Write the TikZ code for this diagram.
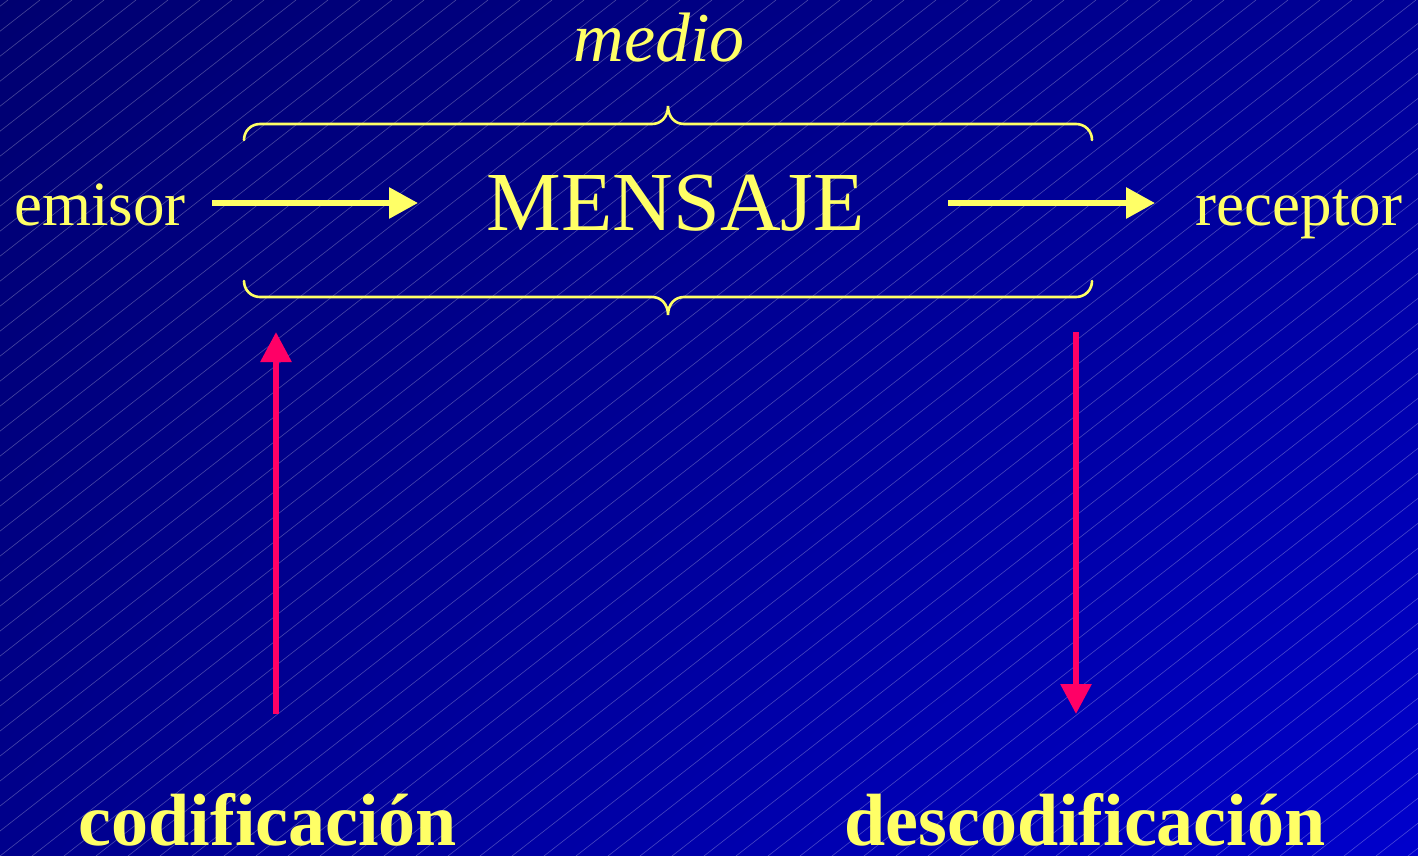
\documentclass[tikz,border=0pt]{standalone}
\usepackage{fontspec}
\setmainfont{Liberation Serif}
\usetikzlibrary{arrows.meta,shadings}
\definecolor{ylw}{RGB}{255,255,102}
\definecolor{rd}{RGB}{255,0,102}
\definecolor{bgA}{RGB}{0,0,112}
\definecolor{bgB}{RGB}{0,0,150}
\definecolor{bgC}{RGB}{0,0,140}
\definecolor{bgD}{RGB}{0,0,204}
\tikzset{
  lbl/.style={inner sep=0pt, anchor=base, text=ylw},
  yarrow/.style={draw=ylw, line width=6pt, -{Triangle[width=30pt,length=29pt]}},
  rarrow/.style={draw=rd, line width=6pt, -{Triangle[width=30pt,length=30pt]}},
  bracestyle/.style={draw=ylw, line width=2.6pt, line cap=round},
  hatch/.style={draw=white, opacity=0.28, line width=0.6pt}
}
\begin{document}
\begin{tikzpicture}[x=1pt,y=-1pt]
\useasboundingbox (0,0) rectangle (1418,856);
\shade[upper left=bgA, upper right=bgB, lower left=bgC, lower right=bgD] (0,0) rectangle (1418,856);
\begin{scope}
\clip (0,0) rectangle (1418,856);
\foreach \a in {-1120,-1088,...,1440} {
  \draw[hatch] (\a,856) -- ({\a+1096},0);
}
\end{scope}
% texts
\node[lbl, font=\fontsize{70}{80}\selectfont\itshape] (medio) at (659,62) {medio};
\node[lbl, font=\fontsize{63}{70}\selectfont] (emisor) at (100,225) {emisor};
\node[lbl, font=\fontsize{84}{90}\selectfont] (mensaje) at (676,230) {MENSAJE};
\node[lbl, font=\fontsize{63}{70}\selectfont] (receptor) at (1299,225) {receptor};
\node[lbl, font=\fontsize{74}{80}\selectfont\bfseries] (codif) at (268,845) {codificación};
\node[lbl, font=\fontsize{74}{80}\selectfont\bfseries] (descodif) at (1085,845) {descodificación};
% braces
\draw[bracestyle] (244,140) .. controls (244,131) and (251,124) .. (260,124) -- (652,124)
  .. controls (661,124) and (668,117) .. (668,106)
  .. controls (668,117) and (675,124) .. (684,124) -- (1076,124)
  .. controls (1085,124) and (1092,131) .. (1092,140);
\draw[bracestyle] (244,281) .. controls (244,290) and (251,297) .. (260,297) -- (652,297)
  .. controls (661,297) and (668,304) .. (668,315)
  .. controls (668,304) and (675,297) .. (684,297) -- (1076,297)
  .. controls (1085,297) and (1092,290) .. (1092,281);
% arrow endpoints
\coordinate (e1) at (212,203);
\coordinate (e2) at (418,203);
\coordinate (r1) at (948,203);
\coordinate (r2) at (1155,203);
\coordinate (c1) at (276,714);
\coordinate (c2) at (276,332);
\coordinate (d1) at (1076,332);
\coordinate (d2) at (1076,714);
\draw[yarrow] (e1) -- (e2);
\draw[yarrow] (r1) -- (r2);
\draw[rarrow] (c1) -- (c2);
\draw[rarrow] (d1) -- (d2);
\end{tikzpicture}
\end{document}
